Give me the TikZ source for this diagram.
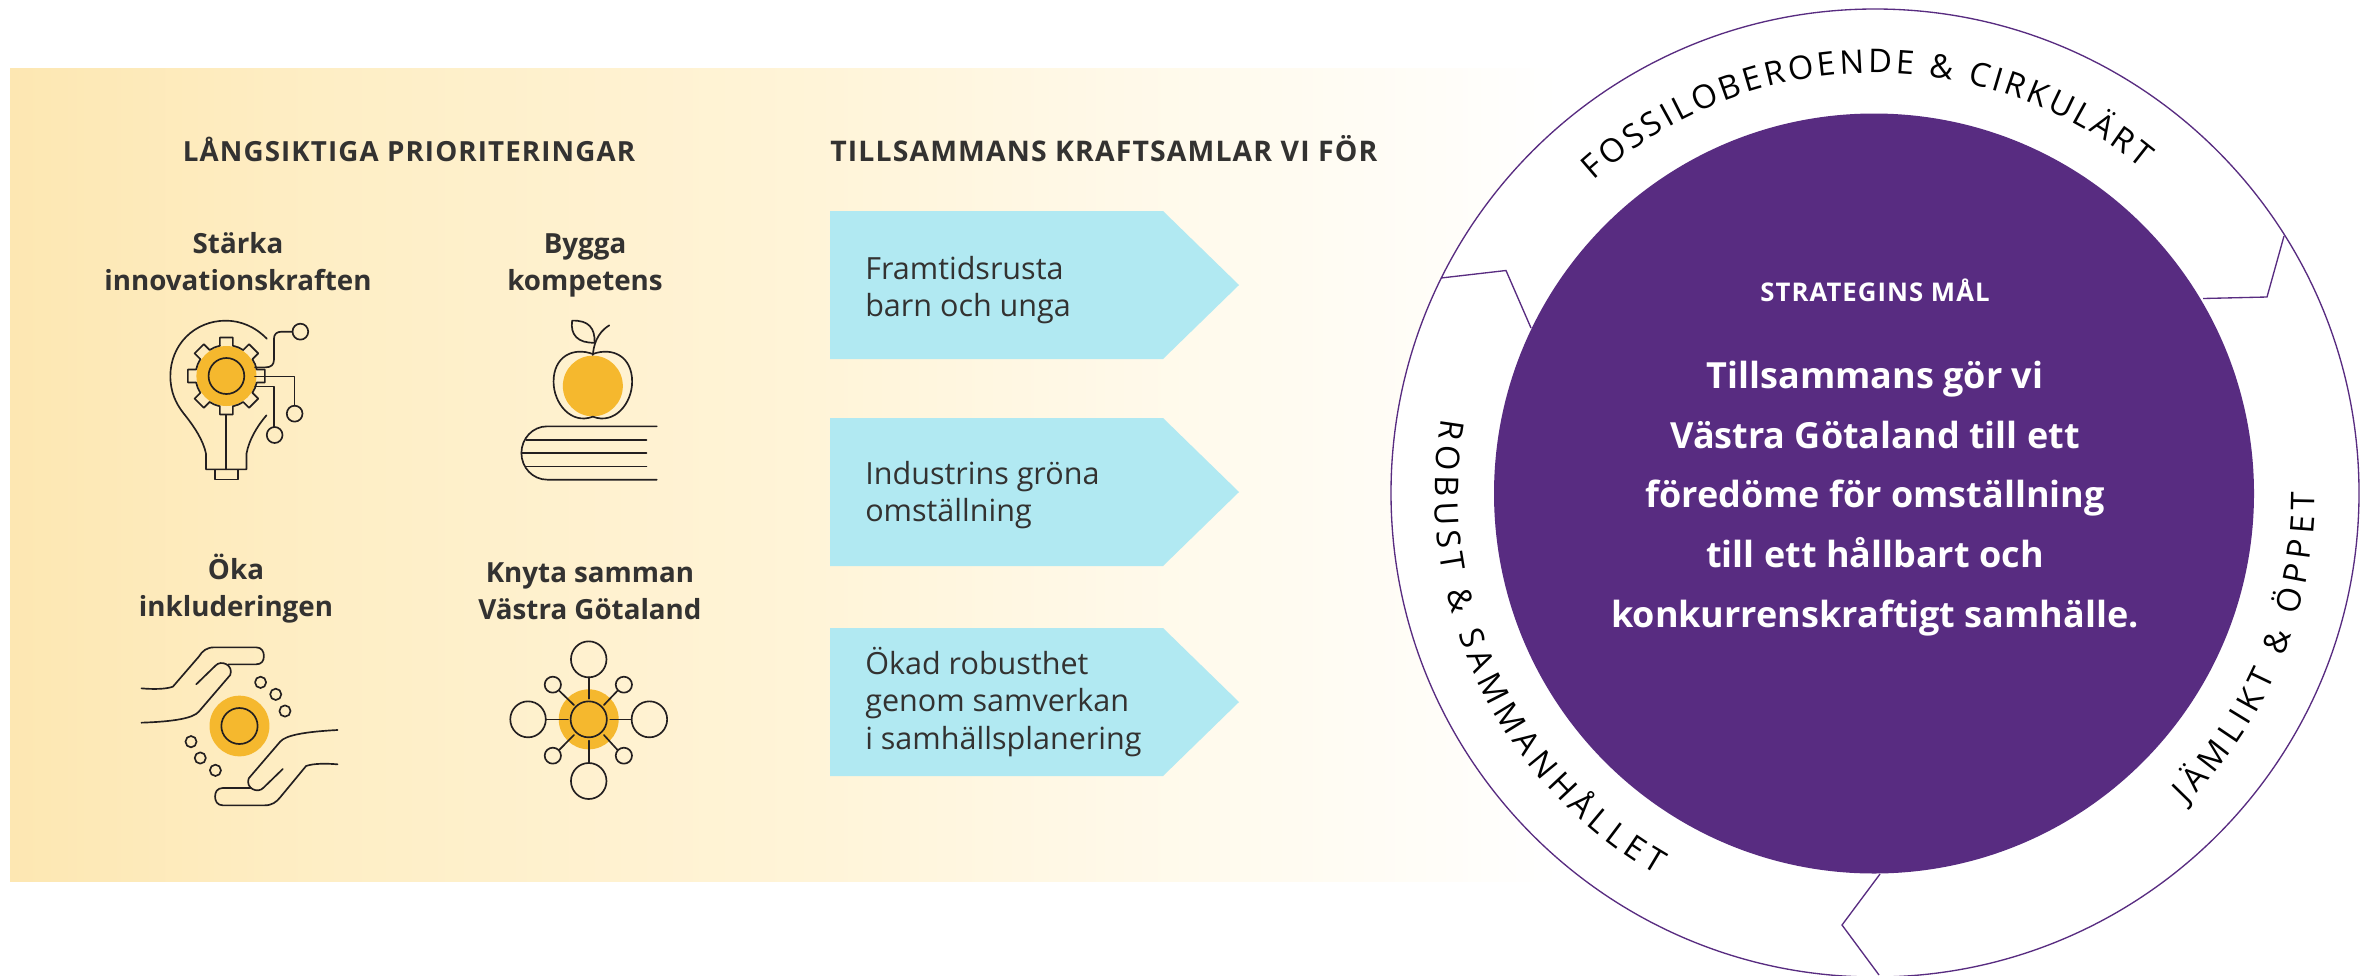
\documentclass[tikz,border=0pt]{standalone}
\usepackage{fontspec}
\usetikzlibrary{decorations.text}
\setmainfont{Open Sans}
\newfontfamily\headfont[LetterSpace=4]{Open Sans}
\newfontfamily\semifont{Open Sans}
\newfontfamily\ringfont{Open Sans}
\definecolor{ink}{HTML}{333231}
\definecolor{purp}{HTML}{582C81}
\definecolor{gold}{HTML}{F5B82E}
\definecolor{sky}{HTML}{B1E9F2}
\definecolor{iconline}{HTML}{231F20}
\definecolor{bandA}{HTML}{FDE7B2}
\definecolor{bandB}{HTML}{FEEEC5}
\definecolor{bandC}{HTML}{FFF4D8}
\definecolor{bandD}{HTML}{FFFAEC}
\definecolor{bandE}{HTML}{FFFDF8}
\pgfdeclarehorizontalshading{bandshade}{100bp}{
 color(0bp)=(bandA);
 color(25bp)=(bandA);
 color(35bp)=(bandB);
 color(51bp)=(bandC);
 color(63bp)=(bandD);
 color(71bp)=(bandE);
 color(75bp)=(white);
 color(100bp)=(white)}
\tikzset{
 head/.style={font=\headfont\bfseries\fontsize{20.8}{26}\selectfont,text=ink,inner sep=0pt},
 prio/.style={font=\semifont\bfseries\fontsize{20.8}{27.7}\selectfont,text=ink,align=center,inner sep=0pt},
 arrowtext/.style={font=\fontsize{22.9}{28}\selectfont,text=ink,align=left,anchor=west,inner sep=0pt},
 arrowbox/.style={fill=sky,draw=none},
 icon/.style={draw=iconline,line width=1.25pt,line join=round,line cap=round},
 dot/.style={fill=gold,draw=none},
 thinring/.style={draw=purp,line width=1pt,line join=miter},
 ringtext/.style={decorate,decoration={text along path,text align={fit to path},text={#1}}},
}
\begin{document}
\begin{tikzpicture}[x=0.75pt,y=-0.75pt]
\useasboundingbox (0,0) rectangle (2366,975);
\fill[white] (0,0) rectangle (2366,975);
\shade[shading=bandshade] (10,68) rectangle (1560,881);
% arrows
\path[arrowbox,fill=sky] (830,211) -- (1163,211) -- (1239,285) -- (1163,359) -- (830,359) -- cycle;
\path[arrowbox,fill=sky] (830,418) -- (1163,418) -- (1239,492) -- (1163,566) -- (830,566) -- cycle;
\path[arrowbox,fill=sky] (830,628) -- (1163,628) -- (1239,702) -- (1163,776) -- (830,776) -- cycle;
\node[head] (h1) at (409,149) {LÅNGSIKTIGA PRIORITERINGAR};
\node[head,anchor=west,font=\headfont\bfseries\fontsize{21.3}{26}\selectfont] (h2) at (830,149) {TILLSAMMANS KRAFTSAMLAR VI FÖR};
\node[prio] (p1) at (238,262) {Stärka\\innovationskraften};
\node[prio] (p2) at (585,265) {Bygga\\kompetens};
\node[prio] (p3) at (236,589) {Öka\\inkluderingen};
\node[prio] (p4) at (590,591) {Knyta samman\\Västra Götaland};
\node[arrowtext] (a1) at (865,290) {Framtidsrusta\\barn och unga};
\node[arrowtext] (a2) at (865,495) {Industrins gröna\\omställning};
\node[arrowtext] (a3) at (865,702) {Ökad robusthet\\genom samverkan\\i samhällsplanering};
% bulb and apple icons, in crop coordinates
\begin{scope}[shift={(130,290)},x=0.26786pt,y=-0.25pt]
 \path[dot] (270,258) ellipse [x radius=84,y radius=90];
 \draw[icon] (383,146) .. controls (350,110) and (310,92) .. (268,92) .. controls (180,92) and (113,165) .. (113,258) .. controls (113,305) and (128,340) .. (150,370) .. controls (180,410) and (205,450) .. (213,492) -- (213,538) -- (326,538) -- (326,492) .. controls (333,450) and (355,410) .. (382,376);
 \draw[icon] (238,538) rectangle (302,568);
 \draw[icon] (268,375) -- (268,538);
 \draw[icon] (270,258) ellipse [x radius=50,y radius=54];
 \draw[icon] (350,232) -- (380,232) .. controls (395,232) and (403,224) .. (403,210) -- (403,147) .. controls (403,132) and (411,125) .. (425,125) -- (455,125);
 \draw[icon] (477,125) ellipse [x radius=22,y radius=24];
 \draw[icon] (350,259) -- (461,259) -- (461,347);
 \draw[icon] (461,371) ellipse [x radius=22,y radius=24];
 \draw[icon] (350,289) -- (403,289) -- (403,411);
 \draw[icon] (405,435) ellipse [x radius=22,y radius=24];
 % apple
 \path[dot] (1296,288) ellipse [x radius=84,y radius=91];
 \draw[icon] (1296,192) .. controls (1240,170) and (1186,200) .. (1186,275) .. controls (1186,340) and (1235,405) .. (1296,380) .. controls (1357,405) and (1406,340) .. (1406,275) .. controls (1406,200) and (1352,170) .. (1296,192);
 \draw[icon] (1296,195) .. controls (1298,170) and (1305,130) .. (1342,106);
 \draw[icon] (1238,92) .. controls (1285,90) and (1302,115) .. (1301,158) .. controls (1255,160) and (1232,135) .. (1238,92);
 % book
 \draw[icon] (1475,409) -- (1168,409) .. controls (1128,409) and (1096,445) .. (1096,489) .. controls (1096,533) and (1128,569) .. (1168,569) -- (1475,569);
 \draw[icon] (1110,449) -- (1446,449);
 \draw[icon] (1096,489) -- (1446,489);
 \draw[icon] (1110,529) -- (1446,529);
\end{scope}
% gear teeth
\foreach \a in {0,45,...,315}{
 \draw[icon,shift={(226.4,376)},rotate=\a] (30.3,-6.5) -- (38.5,-6.5) -- (38.5,6.5) -- (30.3,6.5) arc [start angle=12.1,end angle=32.9,radius=31];
}
% hands and network icons, in crop coordinates
\begin{scope}[shift={(110,620)},x=0.27747pt,y=-0.25pt]
 \path[dot] (350,318) ellipse [x radius=81,y radius=91];
 \draw[icon] (350,318) ellipse [x radius=49,y radius=54];
 \draw[icon] (85,205) .. controls (115,208) and (150,208) .. (170,200) -- (240,110) .. controls (250,92) and (262,82) .. (282,82) -- (395,82) .. controls (410,82) and (416,95) .. (416,108) .. controls (416,122) and (410,133) .. (395,133) -- (320,133);
 \draw[icon] (233,193) -- (285,137) .. controls (300,118) and (335,135) .. (325,165) -- (240,275) .. controls (225,295) and (170,305) .. (85,308);
 \draw[icon] (615,433) .. controls (585,430) and (550,430) .. (530,438) -- (460,532) .. controls (450,546) and (438,556) .. (418,556) -- (305,556) .. controls (290,556) and (284,543) .. (284,530) .. controls (284,516) and (290,504) .. (305,504) -- (380,504);
 \draw[icon] (467,447) -- (415,503) .. controls (400,522) and (365,505) .. (375,475) -- (460,365) .. controls (475,345) and (530,335) .. (615,330);
 \foreach \p in {(407,187),(448,223),(473,273),(219,365),(244,414),(285,451)}
  \draw[icon] \p ellipse [x radius=15,y radius=17];
 % network
 \path[dot] (1294,298) ellipse [x radius=81,y radius=90];
 \draw[icon] (1294,298) ellipse [x radius=49,y radius=54];
 \foreach \p in {(1294,118),(1294,483),(1130,298),(1458,298)}
  \draw[icon] \p ellipse [x radius=48,y radius=54];
 \foreach \p in {(1197,194),(1389,194),(1197,407),(1389,407)}
  \draw[icon] \p ellipse [x radius=22,y radius=24];
 \draw[icon] (1294,172) -- (1294,236);
 \draw[icon] (1294,362) -- (1294,428);
 \draw[icon] (1180,298) -- (1238,298);
 \draw[icon] (1352,298) -- (1408,298);
 \draw[icon] (1214,212) -- (1254,255);
 \draw[icon] (1372,212) -- (1335,255);
 \draw[icon] (1214,390) -- (1254,345);
 \draw[icon] (1372,390) -- (1335,345);
\end{scope}
% circle
\fill[white] (1875,493) circle [radius=484];
\draw[thinring] (1875,493) circle [radius=484];
\fill[purp] (1874,493.5) circle [radius=380];
\draw[thinring] (2284,236) -- (2267,297) -- (2203,298.5);
\draw[thinring] (1441,278) -- (1506,270.5) -- (1531,328);
\draw[thinring] (1880,874) -- (1842,925) -- (1879,975);
\node[font=\headfont\bfseries\fontsize{19.3}{22}\selectfont,text=white,inner sep=0pt] (s) at (1875,290) {STRATEGINS MÅL};
\node[font=\semifont\bfseries\fontsize{27}{44.8}\selectfont,text=white,align=center,inner sep=0pt] (m) at (1875,498.5) {Tillsammans gör vi\\Västra Götaland till ett\\föredöme för omställning\\till ett hållbart och\\konkurrenskraftigt samhälle.};
\begin{scope}[shift={(1875,493)},x=0.75pt,y=0.75pt]
 \path[ringtext={|\ringfont\fontsize{24.5}{24.5}\selectfont|FOSSILOBEROENDE {\&} CIRKULÄRT}] (132:420) arc [start angle=132,end angle=50.6,radius=420];
 \path[ringtext={|\ringfont\fontsize{24.5}{24.5}\selectfont|ROBUST {\&} SAMMANHÅLLET}] (170.3:440) arc [start angle=170.3,end angle=240.2,radius=440];
 \path[ringtext={|\ringfont\fontsize{24.5}{24.5}\selectfont|JÄMLIKT {\&} ÖPPET}] (-45:440) arc [start angle=-45,end angle=0,radius=440];
\end{scope}
\end{tikzpicture}
\end{document}
